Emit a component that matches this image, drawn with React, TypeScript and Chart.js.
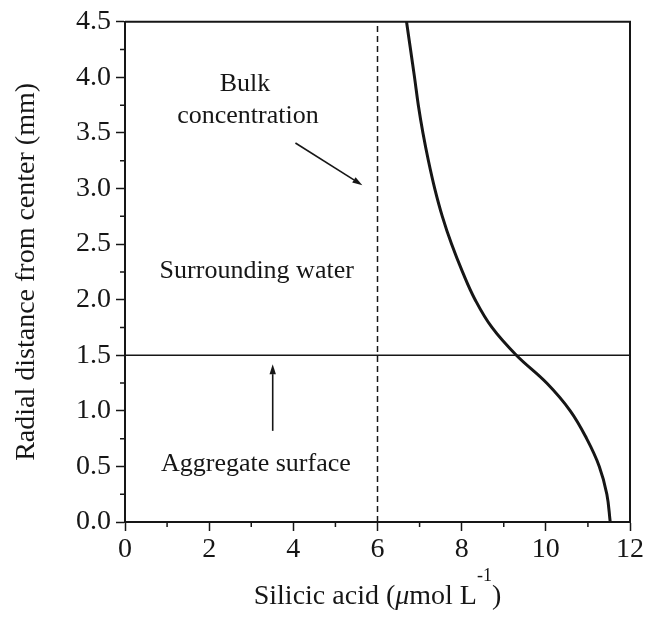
import React, { useEffect, useRef } from "react";
import { Chart, registerables } from "chart.js";

Chart.register(...registerables);

// ---- data ----
const radiusMm = [0, 0.25, 0.5, 0.75, 1.0, 1.25, 1.5, 1.75, 2.0, 2.25, 2.5, 2.75, 3.0, 3.25, 3.5, 3.75, 4.0, 4.25, 4.5];
const silicicAcid = [11.53, 11.45, 11.27, 10.97, 10.58, 10.02, 9.3, 8.72, 8.32, 8.02, 7.76, 7.54, 7.36, 7.21, 7.08, 6.97, 6.88, 6.785, 6.69];
const bulkConcentration = 6;
const aggregateRadius = 1.5;
const xTickValues = [0, 2, 4, 6, 8, 10, 12];
const yTickValues = [0, 0.5, 1.0, 1.5, 2.0, 2.5, 3.0, 3.5, 4.0, 4.5];
const xMinorTickValues = [1, 3, 5, 7, 9, 11];
const yMinorTickValues = [0.25, 0.75, 1.25, 1.75, 2.25, 2.75, 3.25, 3.75, 4.25];
const annotationTexts = ["Bulk", "concentration", "Surrounding water", "Aggregate surface"];

// ---- styling / placement (data coordinates) ----
const INK = "#161616";
const FAMILY = '"Liberation Serif", "Times New Roman", serif';
const textPlacement = [
  { x: 2.85, y: 3.94 },
  { x: 2.92, y: 3.65 },
  { x: 3.13, y: 2.26 },
  { x: 3.11, y: 0.52 },
];
const arrowPlacement = [
  { x0: 4.05, y0: 3.41, x1: 5.64, y1: 3.03 },
  { x0: 3.51, y0: 0.82, x1: 3.51, y1: 1.42 },
];

const overlayPlugin = {
  id: "overlay",
  afterDraw(chart: any) {
    const { ctx, chartArea, scales } = chart;
    const { left, right, top, bottom } = chartArea;
    const xs = scales.x;
    const ys = scales.y;
    ctx.save();
    ctx.strokeStyle = INK;
    ctx.fillStyle = INK;

    // frame top/right
    ctx.lineWidth = 2;
    ctx.beginPath();
    ctx.moveTo(left, top);
    ctx.lineTo(right, top);
    ctx.lineTo(right, bottom);
    ctx.stroke();

    // minor ticks
    ctx.lineWidth = 1.5;
    ctx.beginPath();
    xMinorTickValues.forEach((v) => {
      const px = xs.getPixelForValue(v);
      ctx.moveTo(px, bottom);
      ctx.lineTo(px, bottom + 5);
    });
    yMinorTickValues.forEach((v) => {
      const py = ys.getPixelForValue(v);
      ctx.moveTo(left, py);
      ctx.lineTo(left - 5, py);
    });
    ctx.stroke();

    // annotation texts
    ctx.font = `26px ${FAMILY}`;
    ctx.textAlign = "center";
    ctx.textBaseline = "middle";
    annotationTexts.forEach((t, i) => {
      const p = textPlacement[i];
      ctx.fillText(t, xs.getPixelForValue(p.x), ys.getPixelForValue(p.y));
    });

    // arrows
    ctx.lineWidth = 1.6;
    arrowPlacement.forEach((a) => {
      const x0 = xs.getPixelForValue(a.x0);
      const y0 = ys.getPixelForValue(a.y0);
      const x1 = xs.getPixelForValue(a.x1);
      const y1 = ys.getPixelForValue(a.y1);
      const ang = Math.atan2(y1 - y0, x1 - x0);
      const hl = 10;
      const hw = 3.2;
      const bx = x1 - hl * Math.cos(ang);
      const by = y1 - hl * Math.sin(ang);
      ctx.beginPath();
      ctx.moveTo(x0, y0);
      ctx.lineTo(bx, by);
      ctx.stroke();
      ctx.beginPath();
      ctx.moveTo(x1, y1);
      ctx.lineTo(bx + hw * Math.sin(ang), by - hw * Math.cos(ang));
      ctx.lineTo(bx - hw * Math.sin(ang), by + hw * Math.cos(ang));
      ctx.closePath();
      ctx.fill();
    });

    // x-axis title with italic mu and superscript
    const main = `28px ${FAMILY}`;
    const parts = [
      { t: "Silicic acid (", f: main, dy: 0 },
      { t: "\u03bc", f: `italic 28px ${FAMILY}`, dy: 0 },
      { t: "mol L", f: main, dy: 0 },
      { t: "-1", f: `18px ${FAMILY}`, dy: -23 },
      { t: ")", f: main, dy: 0 },
    ];
    let total = 0;
    const widths = parts.map((p) => {
      ctx.font = p.f;
      const w = ctx.measureText(p.t).width;
      total += w;
      return w;
    });
    let cx = (left + right) / 2 - total / 2;
    const baseY = 604;
    ctx.textAlign = "left";
    ctx.textBaseline = "alphabetic";
    parts.forEach((p, i) => {
      ctx.font = p.f;
      ctx.fillText(p.t, cx, baseY + p.dy);
      cx += widths[i];
    });
    ctx.restore();
  },
};

export default function App() {
  const ref = useRef<HTMLCanvasElement>(null);
  useEffect(() => {
    const curve = radiusMm.map((r, i) => ({ x: silicicAcid[i], y: r }));
    const chart = new Chart(ref.current as HTMLCanvasElement, {
      type: "scatter",
      data: {
        datasets: [
          {
            data: [
              { x: bulkConcentration, y: yTickValues[0] },
              { x: bulkConcentration, y: yTickValues[yTickValues.length - 1] },
            ],
            showLine: true,
            borderColor: INK,
            borderWidth: 1.5,
            borderDash: [6, 4],
            pointRadius: 0,
          },
          {
            data: [
              { x: xTickValues[0], y: aggregateRadius },
              { x: xTickValues[xTickValues.length - 1], y: aggregateRadius },
            ],
            showLine: true,
            borderColor: INK,
            borderWidth: 1.5,
            pointRadius: 0,
          },
          {
            data: curve,
            showLine: true,
            borderColor: INK,
            borderWidth: 3,
            pointRadius: 0,
            tension: 0.4,
          },
        ],
      },
      options: {
        animation: false,
        responsive: true,
        maintainAspectRatio: false,
        layout: { padding: { left: 0, right: 15, top: 18, bottom: 0 } },
        plugins: { legend: { display: false }, tooltip: { enabled: false } },
        scales: {
          x: {
            type: "linear",
            min: 0,
            max: 12,
            afterBuildTicks: (s: any) => {
              s.ticks = xTickValues.map((v) => ({ value: v }));
            },
            afterFit: (s: any) => {
              s.height = 97;
            },
            ticks: {
              color: INK,
              font: { family: FAMILY, size: 28 },
              padding: 2,
              maxRotation: 0,
              callback: (v: any) => String(v),
            },
            grid: { drawOnChartArea: false, drawTicks: true, tickLength: 9, tickWidth: 1.5, tickColor: INK },
            border: { display: true, width: 2, color: INK },
          },
          y: {
            type: "linear",
            min: 0,
            max: 4.5,
            afterBuildTicks: (s: any) => {
              s.ticks = yTickValues.map((v) => ({ value: v }));
            },
            afterFit: (s: any) => {
              s.width = 125;
            },
            ticks: {
              color: INK,
              font: { family: FAMILY, size: 28 },
              padding: 5,
              callback: (v: any) => Number(v).toFixed(1),
            },
            grid: { drawOnChartArea: false, drawTicks: true, tickLength: 9, tickWidth: 1.5, tickColor: INK },
            border: { display: true, width: 2, color: INK },
            title: {
              display: true,
              text: "Radial distance from center (mm)",
              color: INK,
              font: { family: FAMILY, size: 28 },
              padding: { top: 10, bottom: 0 },
            },
          },
        },
      },
      plugins: [overlayPlugin],
    } as any);
    return () => chart.destroy();
  }, []);
  return (
    <div style={{ position: "fixed", left: 0, top: 0, width: 646, height: 619, background: "#fff" }}>
      <canvas ref={ref} />
    </div>
  );
}
